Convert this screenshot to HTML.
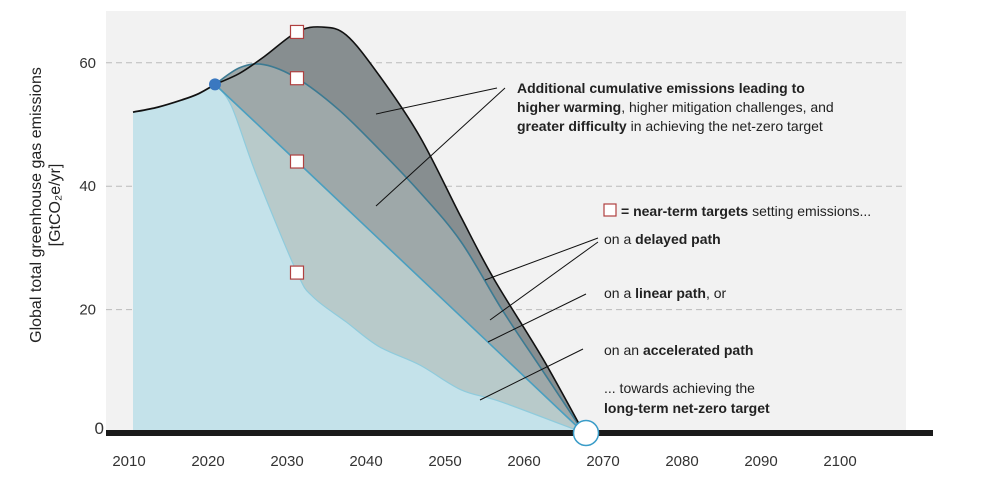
<!DOCTYPE html>
<html><head><meta charset="utf-8"><style>
body{margin:0;background:#fff;}
svg{display:block;font-family:"Liberation Sans",sans-serif;}
</style></head><body>
<svg id="chart" width="1006" height="502">
<rect x="106" y="11" width="800" height="422" fill="#f2f2f2"/>
<g id="grid"></g>
<g id="areas"></g>
<g id="lines"></g>
<g id="xticks"></g>
<g id="yticks"></g>
<g font-size="16" fill="#222" text-anchor="middle">
<text transform="translate(41,205) rotate(-90)">Global total greenhouse gas emissions</text>
<text transform="translate(60,205) rotate(-90)">[GtCO₂e/yr]</text>
</g>
<g font-size="14" fill="#222">
<g stroke="#111" stroke-width="1">
<line x1="497" y1="88" x2="376" y2="114"/><line x1="505" y1="88" x2="376" y2="206"/>
<line x1="598" y1="238" x2="485" y2="280"/><line x1="598" y1="242" x2="490" y2="320"/>
<line x1="586" y1="294" x2="488" y2="342"/><line x1="583" y1="349" x2="480" y2="400"/>
</g>
<text x="517" y="93"><tspan font-weight="bold">Additional cumulative emissions leading to</tspan></text>
<text x="517" y="112"><tspan font-weight="bold">higher warming</tspan>, higher mitigation challenges, and</text>
<text x="517" y="131"><tspan font-weight="bold">greater difficulty</tspan> in achieving the net-zero target</text>
<rect x="604" y="204" width="12" height="12" fill="#fff" stroke="#b04040" stroke-width="1.2"/>
<text x="621" y="216"><tspan font-weight="bold">= near-term targets</tspan> setting emissions...</text>
<text x="604" y="244">on a <tspan font-weight="bold">delayed path</tspan></text>
<text x="604" y="298">on a <tspan font-weight="bold">linear path</tspan>, or</text>
<text x="604" y="355">on an <tspan font-weight="bold">accelerated path</tspan></text>
<text x="604" y="393">... towards achieving the</text>
<text x="604" y="413" font-weight="bold">long-term net-zero target</text>
</g>
</svg>
<script>
const histYears=[2010,2013,2016,2018,2020];
const histVals=[52,52.8,54,55,56.5];
const delYears=[2020,2023,2026,2030,2033,2036,2040,2045,2050,2054,2060,2065];
const delVals=[56.5,58.3,61,65,65.8,64.5,58,48,35,25,12,0];
const midYears=[2020,2023,2026,2030,2035,2040,2045,2050,2055,2060,2065];
const midVals=[56.5,59.2,59.7,57.5,52.5,46,39,31,20,10,0];
const linYears=[2020,2030,2065];
const linVals=[56.5,44,0];
const accYears=[2020,2022,2025,2030,2032,2036,2040,2045,2050,2055,2065];
const accVals=[56.5,53,42,26,22,18,14,11,7,5,0];
const targetYears=[2030,2030,2030,2030];
const targetVals=[65,57.5,44,26];
const xTickYears=[2010,2020,2030,2040,2050,2060,2070,2080,2090,2100];
const yTicks=[0,20,40,60];
const NS="http://www.w3.org/2000/svg";
const X=y=>215+(y-2020)*8.2;
const XL=y=>129+(y-2010)*7.9;
const Y=v=>433-v*6.17;
function mk(t,a,p){const e=document.createElementNS(NS,t);for(const k in a)e.setAttribute(k,a[k]);document.getElementById(p).appendChild(e);return e;}
function pts(ys,vs){return ys.map((y,i)=>[X(y),Y(vs[i])]);}
function smooth(p){let d="M"+p[0][0]+","+p[0][1];for(let i=0;i<p.length-1;i++){const p0=p[i-1]||p[i],p1=p[i],p2=p[i+1],p3=p[i+2]||p2;const c1=[p1[0]+(p2[0]-p0[0])/6,p1[1]+(p2[1]-p0[1])/6],c2=[p2[0]-(p3[0]-p1[0])/6,p2[1]-(p3[1]-p1[1])/6];d+=`C${c1[0]},${c1[1]} ${c2[0]},${c2[1]} ${p2[0]},${p2[1]}`;}return d;}
yTicks.forEach(v=>{if(v>0){const g=mk('line',{x1:106,x2:906,y1:Y(v),y2:Y(v),stroke:'#bbb','stroke-dasharray':'6,4'},'grid');

}
const t=mk('text',{x:v==0?104:96,y:Y(v)+(v==0?1:5),'text-anchor':'end','font-size':v==0?17:15,fill:'#333'},'yticks');t.textContent=v;

});
const base=`L${X(2065)},${Y(0)} L${X(2020)},${Y(0)}Z`;
const h=pts(histYears,histVals);
const ha=mk('path',{d:smooth(h)+`L${X(2020)},${Y(0)} L${X(2010)},${Y(0)}Z`,fill:'#c4e2ea'},'areas');


[[delYears,delVals,'#878e90','delayed-area'],[midYears,midVals,'#9ea8a9','mid-area'],[linYears,linVals,'#b8caca','linear-area'],[accYears,accVals,'#c4e2ea','accelerated-area']].forEach(s=>{
const p=pts(s[0],s[1]);const e=mk('path',{d:(s[0].length>3?smooth(p):"M"+p.join("L"))+base,fill:s[2]},'areas');

});
[[accYears,accVals,'#8fcbdc',1.2,'accelerated-line'],[linYears,linVals,'#4a9fc0',1.6,'linear-line'],[midYears,midVals,'#3c7a92',1.6,'delayed-mid-line'],[delYears,delVals,'#111',1.6,'delayed-line'],[histYears,histVals,'#111',1.8,'history-line']].forEach(s=>{
const p=pts(s[0],s[1]);const e=mk('path',{d:s[0].length>3?smooth(p):"M"+p.join("L"),fill:'none',stroke:s[2],'stroke-width':s[3]},'lines');

});
const ax=mk('rect',{x:106,y:430,width:827,height:6,fill:'#1a1a1a'},'lines');


targetYears.forEach((y,i)=>{const r=mk('rect',{x:X(y)-6.5,y:Y(targetVals[i])-6.5,width:13,height:13,fill:'#fff',stroke:'#b04040','stroke-width':1.2},'lines');

});
const dot=mk('circle',{cx:X(2020),cy:Y(56.5),r:6,fill:'#3a78c0'},'lines');


const nz=mk('circle',{cx:X(2065)+2,cy:Y(0),r:12.5,fill:'#fff',stroke:'#3a9cc8','stroke-width':1.5},'lines');


xTickYears.forEach(y=>{const t=mk('text',{x:XL(y),y:466,'text-anchor':'middle','font-size':15,fill:'#333'},'xticks');t.textContent=y;

});
</script>
</body></html>
